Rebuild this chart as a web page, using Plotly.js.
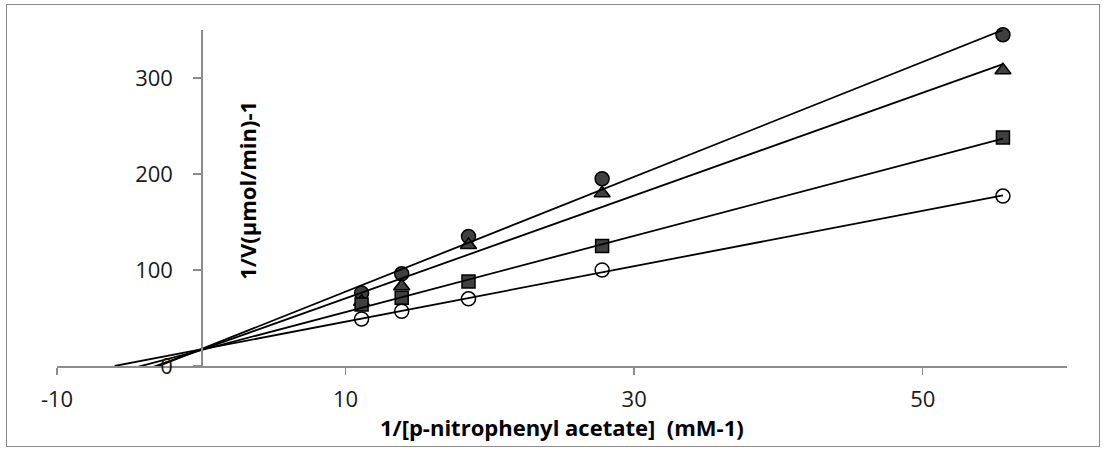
<!DOCTYPE html>
<html>
<head>
<meta charset="utf-8">
<script src="https://cdn.plot.ly/plotly-3.0.1.min.js"></script>
<style>
  html, body { margin: 0; padding: 0; background: #fff; }
  #wrap { position: relative; width: 1103px; height: 452px; }
  #chart { position: absolute; left: 0; top: 0; width: 1103px; height: 452px; }
  #frame { position: absolute; left: 6px; top: 4px; width: 1094px; height: 443px; border: 1.5px solid #8c8c8c; pointer-events: none; box-sizing: border-box; }
</style>
</head>
<body>
<div id="wrap">
  <div id="chart"></div>
  <div id="frame"></div>
</div>
<script>
// 1/[S] values (mM-1)
const invSubstrate = [11.11, 13.89, 18.52, 27.78, 55.56];
// 1/V values for each series
const yFilledCircle = [76, 96, 135, 195, 345];
const yTriangle     = [67, 83, 126, 180, 308];
const ySquare       = [64, 71, 88, 125, 238];
const yOpenCircle   = [49, 57, 70, 100, 177];

const xTickVals = [-10, 10, 30, 50];
const yTickVals = [0, 100, 200, 300];
const xTitle = '1/[p-nitrophenyl acetate]  (mM-1)';
const yTitle = '1/V(µmol/min)-1';

const trendStart = -6;

function linfit(xs, ys) {
  const n = xs.length;
  const mx = xs.reduce((a, b) => a + b, 0) / n;
  const my = ys.reduce((a, b) => a + b, 0) / n;
  let sxy = 0, sxx = 0;
  for (let i = 0; i < n; i++) { sxy += (xs[i] - mx) * (ys[i] - my); sxx += (xs[i] - mx) ** 2; }
  const m = sxy / sxx;
  return { m: m, b: my - m * mx };
}

const series = [
  { y: yFilledCircle, symbol: 'circle', fill: '#404040' },
  { y: yTriangle, symbol: 'triangle-up', fill: '#404040' },
  { y: ySquare, symbol: 'square', fill: '#404040' },
  { y: yOpenCircle, symbol: 'circle', fill: '#ffffff' }
];

const traces = [];
series.forEach(s => {
  traces.push({
    x: invSubstrate, y: s.y, mode: 'markers', type: 'scatter',
    marker: { symbol: s.symbol, size: s.symbol === 'square' ? 13 : 14, color: s.fill, line: { color: '#000', width: 1.5 } },
    hoverinfo: 'x+y', showlegend: false, cliponaxis: false
  });
});
series.forEach(s => {
  const f = linfit(invSubstrate, s.y);
  const xEnd = invSubstrate[invSubstrate.length - 1];
  traces.push({
    x: [trendStart, xEnd], y: [f.m * trendStart + f.b, f.m * xEnd + f.b],
    mode: 'lines', type: 'scatter', line: { color: '#000', width: 1.8 },
    hoverinfo: 'skip', showlegend: false
  });
});

const tickFont = { family: 'Open Sans, Liberation Sans, sans-serif', size: 22, color: '#1a1a1a' };
const titleFont = { family: 'Open Sans, Liberation Sans, sans-serif', size: 22, color: '#000' };

const layout = {
  width: 1103, height: 452,
  margin: { l: 57, r: 36, t: 30, b: 86 },
  paper_bgcolor: '#fff', plot_bgcolor: '#fff',
  showlegend: false,
  xaxis: {
    range: [-10, 60], tickvals: xTickVals, ticktext: xTickVals.map(String),
    showgrid: false, zeroline: false, showline: true, linecolor: '#8c8c8c', linewidth: 1.5,
    ticks: 'outside', ticklen: 7, tickcolor: '#8c8c8c', tickwidth: 1.5,
    tickfont: tickFont, ticklabelstandoff: 6
  },
  yaxis: {
    range: [0, 350], tickvals: yTickVals, ticktext: yTickVals.map(String),
    anchor: 'free', position: 1 / 7,
    showgrid: false, zeroline: false, showline: true, linecolor: '#8c8c8c', linewidth: 1.5,
    ticks: 'outside', ticklen: 8, tickcolor: '#8c8c8c', tickwidth: 1.5,
    tickfont: tickFont, ticklabelstandoff: 16
  },
  annotations: [
    { text: '<b>' + xTitle + '</b>', xref: 'paper', yref: 'paper', x: 0.5, y: (366 - 427) / 336,
      xanchor: 'center', yanchor: 'middle', showarrow: false, font: titleFont },
    { text: '<b>' + yTitle + '</b>', xref: 'x', yref: 'y', x: 3.2, y: 183,
      xanchor: 'center', yanchor: 'middle', showarrow: false, textangle: -90, font: titleFont }
  ]
};

Plotly.newPlot('chart', traces, layout, { displayModeBar: false, staticPlot: true });
</script>
</body>
</html>
